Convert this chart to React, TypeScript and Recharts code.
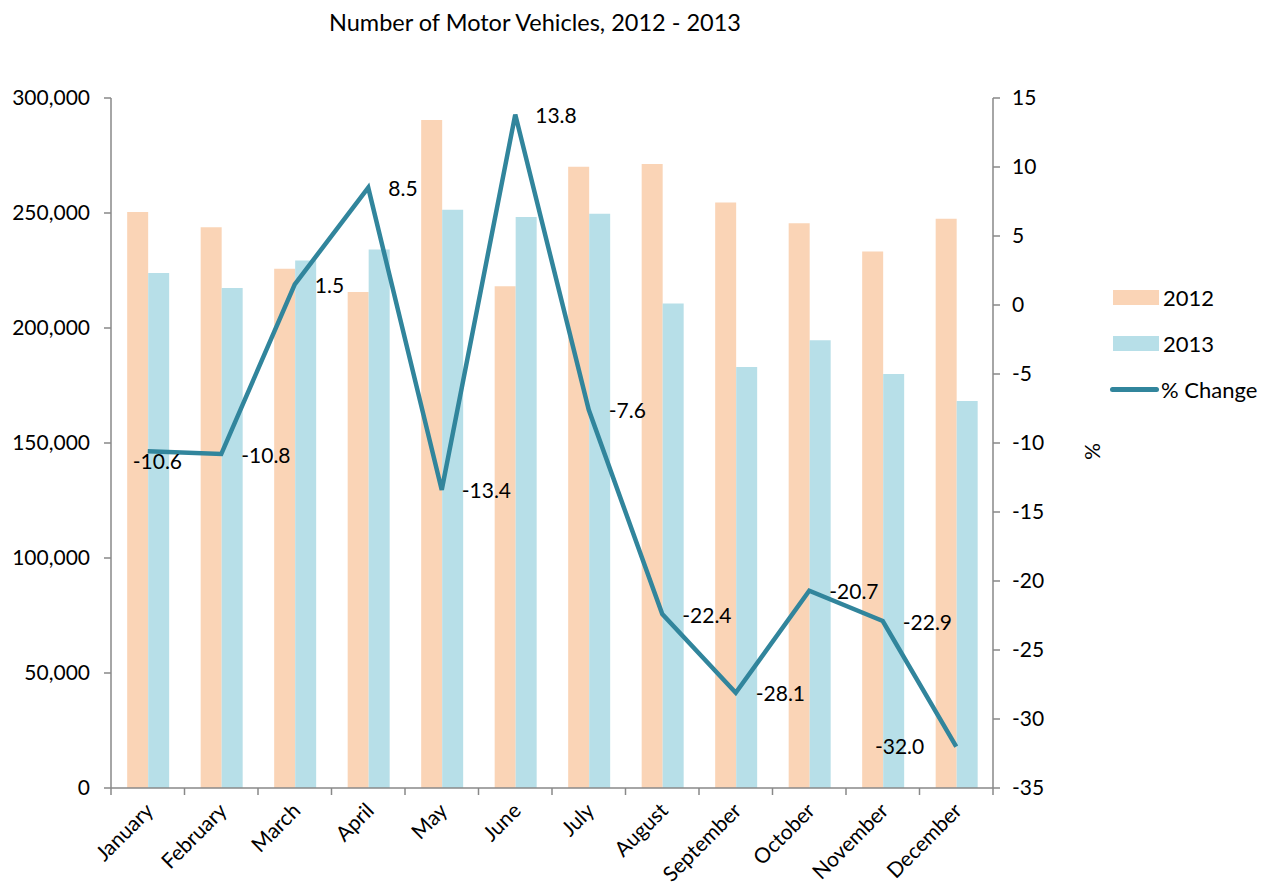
import { ComposedChart, Bar, Line, XAxis, YAxis, LabelList } from 'recharts';

const months = ['January', 'February', 'March', 'April', 'May', 'June', 'July', 'August', 'September', 'October', 'November', 'December'];
const vehicles2012 = [250400, 243800, 225800, 215700, 290400, 218100, 270100, 271300, 254600, 245500, 233300, 247500];
const vehicles2013 = [223900, 217400, 229300, 234100, 251400, 248300, 249700, 210600, 183000, 194700, 180000, 168300];
const pctChange = [-10.6, -10.8, 1.5, 8.5, -13.4, 13.8, -7.6, -22.4, -28.1, -20.7, -22.9, -32.0];
const leftTicks = [0, 50000, 100000, 150000, 200000, 250000, 300000];
const rightTicks = [-35, -30, -25, -20, -15, -10, -5, 0, 5, 10, 15];

const data = months.map((m, i) => ({
  month: m,
  y2012: vehicles2012[i],
  y2013: vehicles2013[i],
  change: pctChange[i],
}));

const FONT = 'Lato, sans-serif';
const FS = 21;
const C2012 = '#FAD4B6';
const C2013 = '#B7DFE8';
const CLINE = '#31859C';
const AXIS = '#888888';

const W = 1271;
const H = 886;
const PLOT_LEFT = 103;
const PLOT_RIGHT = 985;
const PLOT_TOP = 90;
const PLOT_BOTTOM = 780;
const BAND = (PLOT_RIGHT - PLOT_LEFT) / months.length;

const MonthTick = ({ x, payload, index }: any) => {
  const tx = x + 7;
  const ty = PLOT_BOTTOM + 24;
  return (
    <g>
      <line x1={x - BAND / 2} y1={PLOT_BOTTOM} x2={x - BAND / 2} y2={PLOT_BOTTOM + 7} stroke={AXIS} strokeWidth={1.5} />
      {index === months.length - 1 && (
        <line x1={x + BAND / 2} y1={PLOT_BOTTOM} x2={x + BAND / 2} y2={PLOT_BOTTOM + 7} stroke={AXIS} strokeWidth={1.5} />
      )}
      <text x={tx} y={ty} textAnchor="end" transform={`rotate(-45 ${tx} ${ty})`} fontSize={FS} fill="#000" fontFamily={FONT}>
        {payload.value}
      </text>
    </g>
  );
};

const ChangeLabel = (props: any) => {
  const { x, y, value, index } = props;
  let dx = 20;
  let dy = 0;
  let anchor = 'start';
  if (index === 0) { dx = -15; dy = 9; }
  if (index === months.length - 1) { dx = -32; dy = -1; anchor = 'end'; }
  return (
    <text x={x + dx} y={y + dy} textAnchor={anchor} dominantBaseline="central" fontSize={FS} fill="#000" fontFamily={FONT}>
      {Number(value).toFixed(1)}
    </text>
  );
};

const LegendBox = () => (
  <div style={{ position: 'absolute', left: 1105, top: 266, fontFamily: FONT, fontSize: 22, color: '#000' }}>
    <div style={{ display: 'flex', alignItems: 'center', height: 46 }}>
      <span style={{ display: 'inline-block', width: 46, height: 15, background: C2012, marginRight: 4 }} />
      2012
    </div>
    <div style={{ display: 'flex', alignItems: 'center', height: 46 }}>
      <span style={{ display: 'inline-block', width: 46, height: 15, background: C2013, marginRight: 4 }} />
      2013
    </div>
    <div style={{ display: 'flex', alignItems: 'center', height: 46 }}>
      <span style={{ display: 'inline-block', width: 49, height: 5, borderRadius: 3, background: CLINE, marginRight: 2, marginLeft: -3 }} />
      % Change
    </div>
  </div>
);

export default function App() {
  return (
    <div style={{ position: 'relative', width: W, height: H }}>
      <div style={{ position: 'absolute', top: 0, left: 527, transform: 'translateX(-50%)', fontFamily: FONT, fontSize: 23.5, whiteSpace: 'nowrap', color: '#000' }}>
        Number of Motor Vehicles, 2012 - 2013
      </div>
      <ComposedChart
        width={W}
        height={H}
        data={data}
        margin={{ top: PLOT_TOP, right: W - PLOT_RIGHT - 70, left: PLOT_LEFT - 90, bottom: H - PLOT_BOTTOM - 80 }}
        barCategoryGap="22%"
        barGap={0}
      >
        <XAxis
          dataKey="month"
          interval={0}
          height={80}
          tickLine={false}
          axisLine={{ stroke: AXIS, strokeWidth: 1.5 }}
          tick={<MonthTick />}
        />
        <YAxis
          yAxisId="left"
          width={90}
          domain={[0, 300000]}
          ticks={leftTicks}
          tickFormatter={(v: number) => v.toLocaleString('en-US')}
          axisLine={{ stroke: AXIS, strokeWidth: 1.5 }}
          tickLine={{ stroke: AXIS, strokeWidth: 1.5 }}
          tickSize={7}
          tickMargin={14}
          tick={{ fontSize: FS, fill: '#000', fontFamily: FONT }}
        />
        <YAxis
          yAxisId="right"
          orientation="right"
          width={70}
          domain={[-35, 15]}
          ticks={rightTicks}
          axisLine={{ stroke: AXIS, strokeWidth: 1.5 }}
          tickLine={{ stroke: AXIS, strokeWidth: 1.5 }}
          tickSize={7}
          tickMargin={12}
          tick={{ fontSize: FS, fill: '#000', fontFamily: FONT }}
          label={{ value: '%', angle: 90, position: 'right', offset: 29, fontSize: FS, fill: '#000', fontFamily: FONT }}
        />
        <Bar yAxisId="left" dataKey="y2012" name="2012" fill={C2012} isAnimationActive={false} />
        <Bar yAxisId="left" dataKey="y2013" name="2013" fill={C2013} isAnimationActive={false} />
        <Line
          yAxisId="right"
          dataKey="change"
          name="% Change"
          type="linear"
          stroke={CLINE}
          strokeWidth={4.5}
          dot={false}
          isAnimationActive={false}
        >
          <LabelList dataKey="change" content={<ChangeLabel />} />
        </Line>
      </ComposedChart>
      <LegendBox />
    </div>
  );
}
